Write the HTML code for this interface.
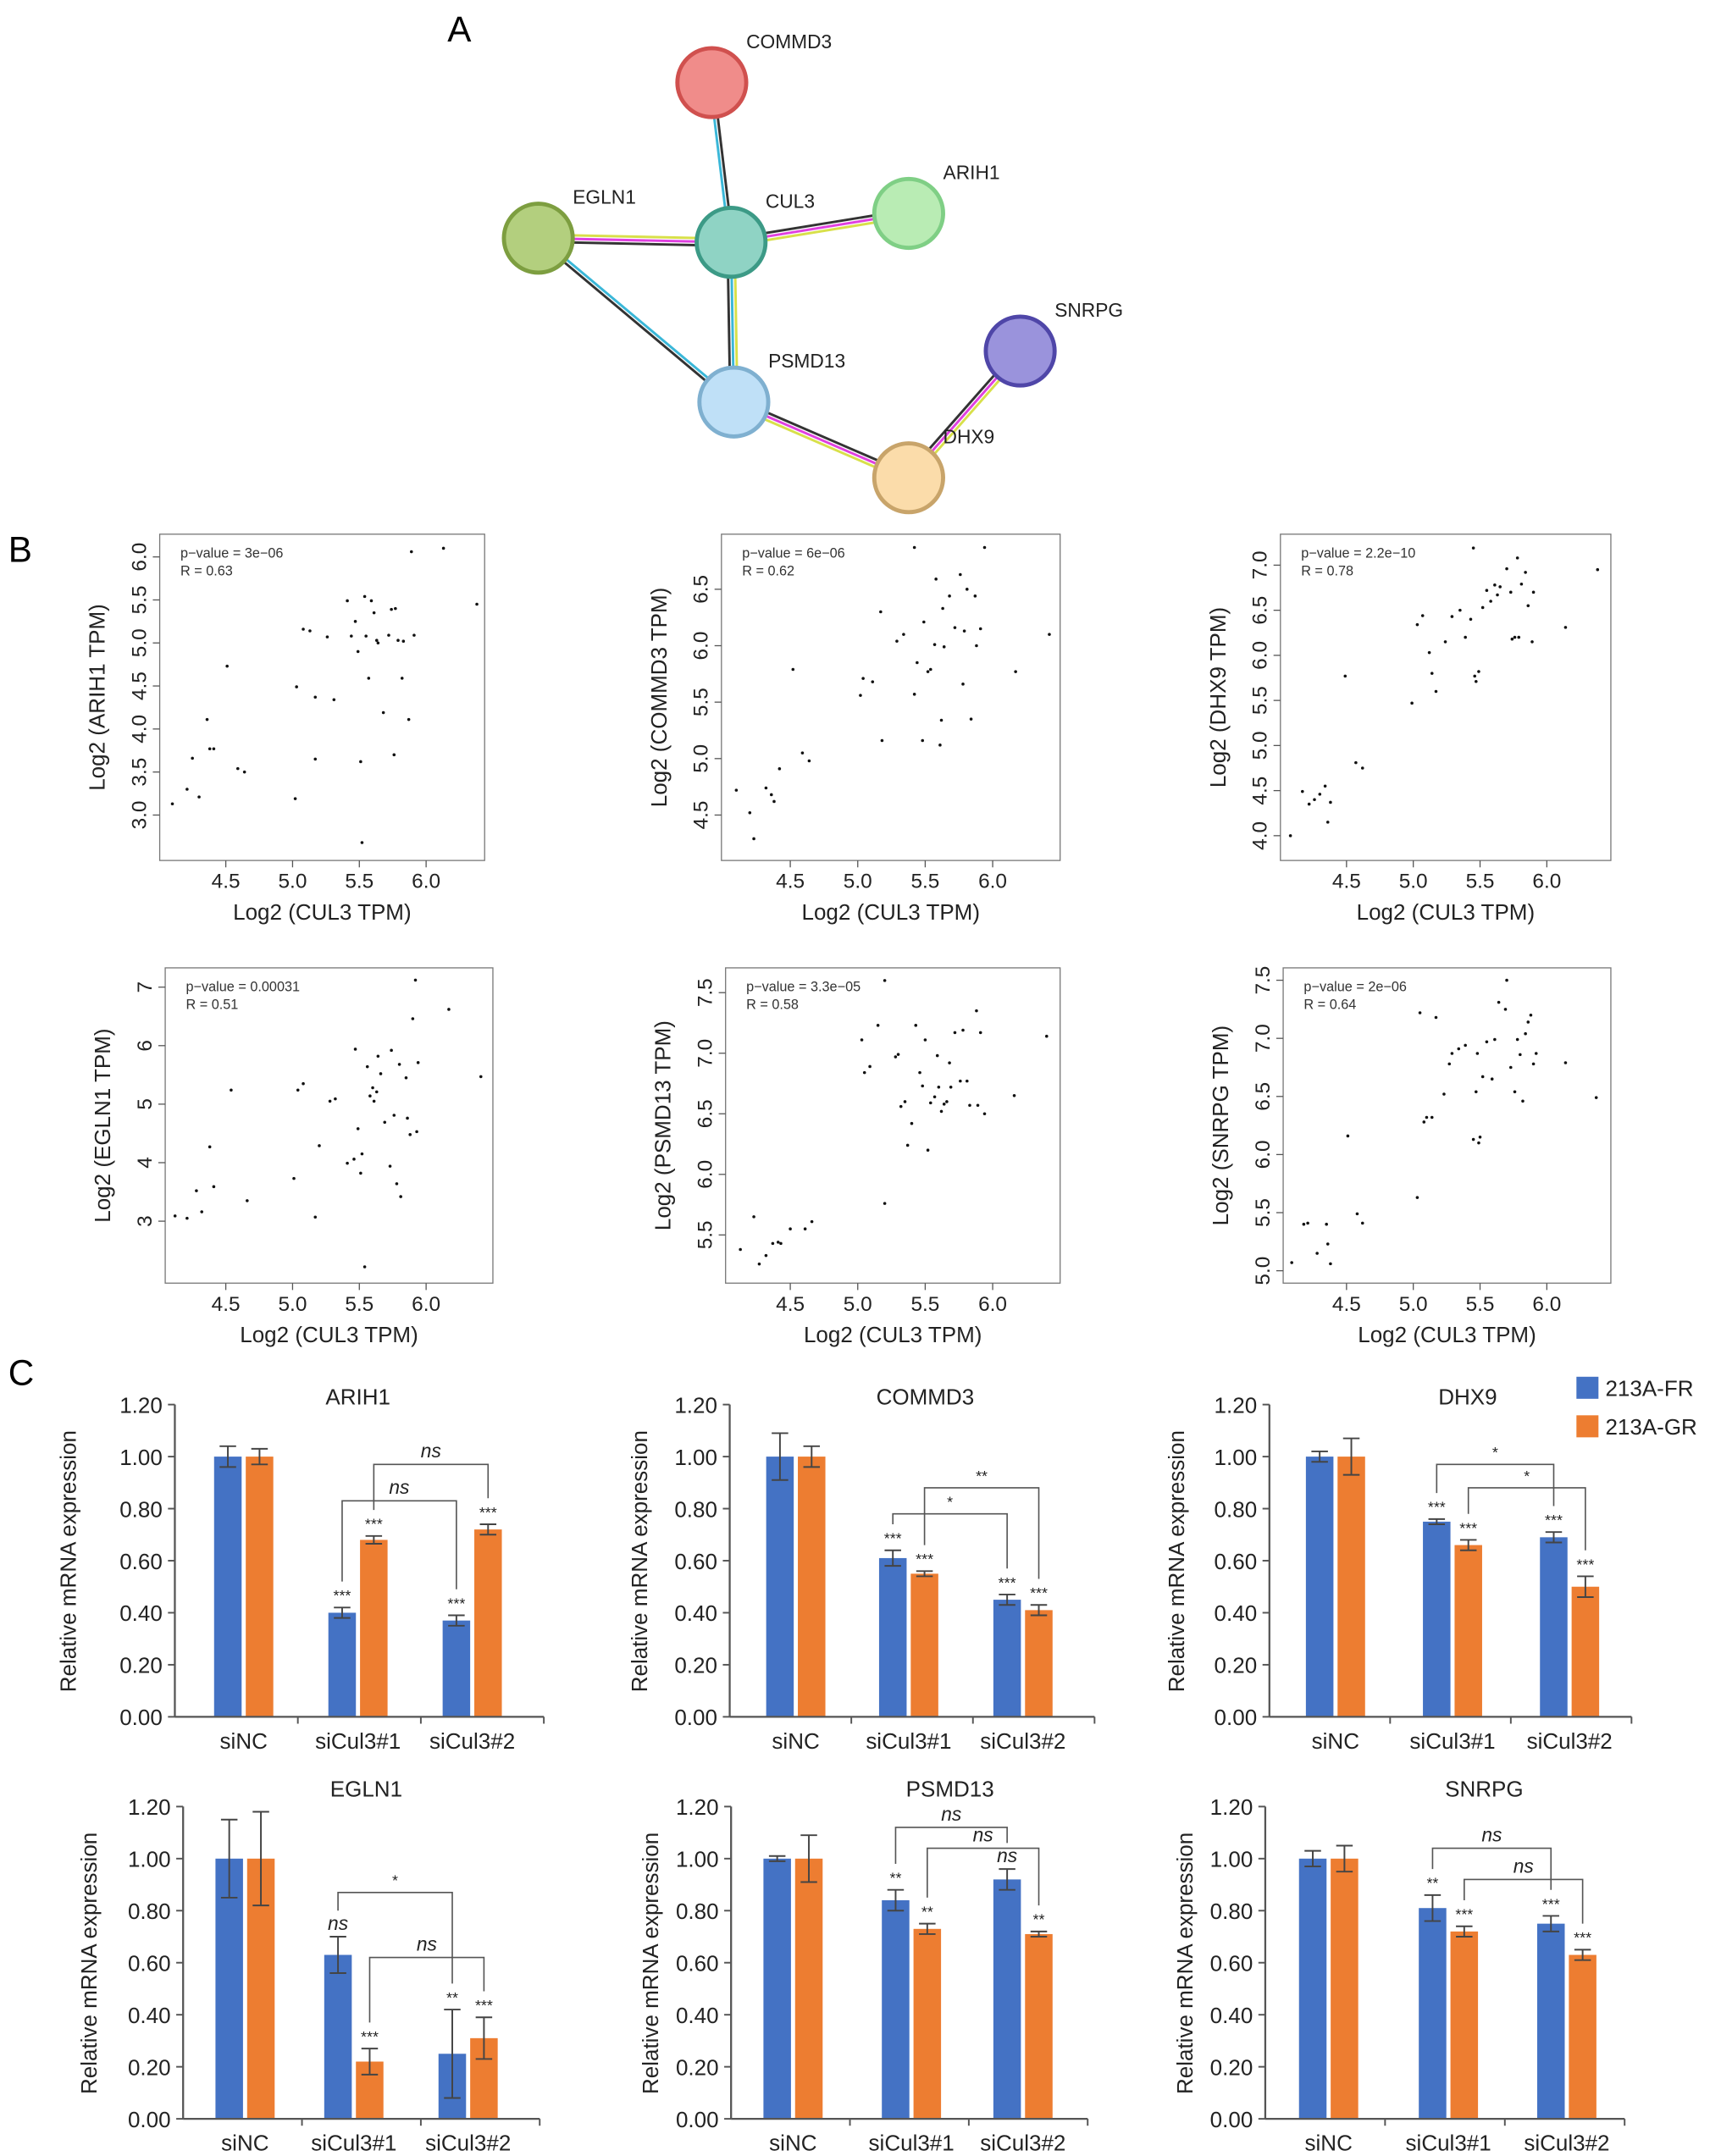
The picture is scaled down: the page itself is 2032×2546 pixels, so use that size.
<!DOCTYPE html>
<html><head><meta charset="utf-8"><style>
html,body{margin:0;padding:0;background:#fff}
svg{display:block}
text{font-family:"Liberation Sans",Arial,sans-serif}
</style></head><body>
<svg id="fig" xmlns="http://www.w3.org/2000/svg" width="2032" height="2546" viewBox="0 0 1250 1566" preserveAspectRatio="none">
<rect x="0" y="0" width="1250" height="1566" fill="#fff"/>
<text x="325" y="30" font-size="26">A</text>
<text x="6" y="408" font-size="26">B</text>
<text x="6" y="1006" font-size="26">C</text>
<g id="net"></g>
<g id="scat"></g>
<g id="bars"></g>
</svg>
<script>
// ---------- Network data ----------
const nodeNames = ["COMMD3","CUL3","ARIH1","EGLN1","PSMD13","SNRPG","DHX9"];
const nodeFill = ["#f08c8a","#8fd3c4","#b9ecb4","#b3cf7e","#bfe0f7","#9a93dc","#fbdcaa"];
const nodeStroke = ["#d0504e","#3c9a86","#7fcf85","#7d9e40","#7fb0d0","#4f46a8","#c8a46a"];
const nodeX = [517,531,660,391,533,741,660];
const nodeY = [60,176,155,173,292,255,347];
const edgeFrom = [0,3,1,1,3,4,6];
const edgeTo   = [1,1,2,4,4,6,5];
const edgeColors = [["#333","#3ab7d8"],["#d8e04a","#e040e0","#333"],["#333","#e040e0","#d8e04a"],["#d8e04a","#3ab7d8","#333"],["#3ab7d8","#333"],["#333","#e040e0","#d8e04a"],["#333","#e040e0","#d8e04a"]];
const labelDX = [25,25,25,25,25,25,25];
const NS="http://www.w3.org/2000/svg";
function el(tag,attrs,parent){const e=document.createElementNS(NS,tag);for(const k in attrs)e.setAttribute(k,attrs[k]);parent.appendChild(e);return e;}
const net=document.getElementById('net');
edgeFrom.forEach((f,i)=>{
  const t=edgeTo[i];const x1=nodeX[f],y1=nodeY[f],x2=nodeX[t],y2=nodeY[t];
  const dx=x2-x1,dy=y2-y1,L=Math.hypot(dx,dy),nx=-dy/L,ny=dx/L;
  const cs=edgeColors[i];
  cs.forEach((c,k)=>{const o=(k-(cs.length-1)/2)*2.6;
    const ln=el('line',{x1:x1+nx*o,y1:y1+ny*o,x2:x2+nx*o,y2:y2+ny*o,stroke:c,'stroke-width':1.8},net);
    
    
  });
});
nodeNames.forEach((n,i)=>{
  const c=el('circle',{cx:nodeX[i],cy:nodeY[i],r:25,fill:nodeFill[i],stroke:nodeStroke[i],'stroke-width':3},net);
  
  
  const t=el('text',{x:nodeX[i]+labelDX[i],y:nodeY[i]-25,'font-size':14,fill:'#222'},net);
  t.textContent=n;
  
  
});

// ---------- Scatter data ----------
const cul3A=[4.10,4.21,4.25,4.30,4.36,4.38,4.41,4.51,4.59,4.64,5.02,5.03,5.08,5.13,5.17,5.17,5.26,5.31,5.41,5.44,5.47,5.49,5.51,5.52,5.54,5.55,5.57,5.59,5.61,5.63,5.64,5.68,5.72,5.74,5.76,5.77,5.79,5.82,5.83,5.87,5.89,5.91,6.13,6.38];
const arih1=[3.13,3.30,3.66,3.21,4.11,3.77,3.77,4.73,3.54,3.50,3.19,4.49,5.16,5.14,4.37,3.65,5.07,4.34,5.49,5.08,5.25,4.90,3.62,2.68,5.54,5.08,4.59,5.49,5.35,5.03,5.00,4.19,5.09,5.39,3.70,5.40,5.03,4.59,5.02,4.11,6.06,5.09,6.10,5.45];
const cul3B=[4.10,4.20,4.23,4.32,4.36,4.38,4.42,4.52,4.59,4.64,5.02,5.04,5.11,5.18,5.17,5.29,5.34,5.42,5.42,5.44,5.48,5.49,5.52,5.54,5.57,5.58,5.61,5.62,5.63,5.64,5.68,5.72,5.76,5.78,5.79,5.81,5.84,5.87,5.88,5.91,5.94,6.17,6.42];
const commd3=[4.72,4.52,4.29,4.74,4.68,4.62,4.91,5.79,5.05,4.98,5.56,5.71,5.68,5.16,6.30,6.04,6.10,6.87,5.57,5.85,5.16,6.21,5.77,5.79,6.01,6.59,5.12,5.34,6.33,5.99,6.44,6.16,6.63,5.66,6.13,6.50,5.35,6.44,6.00,6.15,6.87,5.77,6.10];
const cul3C=[4.08,4.17,4.22,4.26,4.30,4.34,4.36,4.38,4.49,4.57,4.62,4.99,5.03,5.07,5.12,5.14,5.17,5.24,5.29,5.35,5.39,5.43,5.45,5.46,5.47,5.49,5.52,5.55,5.58,5.61,5.63,5.65,5.70,5.73,5.76,5.78,5.81,5.84,5.86,5.89,5.90,6.14,6.38,5.79,5.74];
const dhx9=[4.00,4.49,4.35,4.40,4.46,4.55,4.15,4.37,5.77,4.81,4.75,5.47,6.34,6.44,6.03,5.80,5.60,6.15,6.43,6.50,6.20,6.40,7.19,5.77,5.71,5.82,6.53,6.72,6.60,6.78,6.67,6.76,6.96,6.70,6.20,7.08,6.79,6.92,6.55,6.15,6.70,6.31,6.95,6.20,6.18];
const cul3D=[4.12,4.21,4.28,4.32,4.38,4.41,4.54,4.66,5.01,5.04,5.08,5.17,5.20,5.28,5.32,5.41,5.46,5.47,5.49,5.51,5.52,5.54,5.56,5.58,5.60,5.61,5.63,5.64,5.66,5.69,5.73,5.74,5.76,5.78,5.80,5.81,5.85,5.86,5.88,5.90,5.92,5.94,6.17,6.41,5.93];
const egln1=[3.09,3.05,3.52,3.16,4.27,3.59,5.24,3.35,3.73,5.24,5.35,3.07,4.29,5.05,5.09,3.99,4.06,5.94,4.58,3.82,4.15,2.22,5.64,5.14,5.28,5.05,5.21,5.82,5.52,4.69,3.94,5.92,4.81,3.64,5.68,3.42,5.45,4.76,4.48,6.46,7.12,5.71,6.62,5.47,4.53];
const cul3E=[4.13,4.23,4.27,4.32,4.37,4.41,4.43,4.50,4.61,4.66,5.03,5.05,5.09,5.15,5.20,5.28,5.30,5.32,5.35,5.37,5.40,5.43,5.46,5.48,5.50,5.52,5.54,5.57,5.59,5.60,5.62,5.64,5.66,5.68,5.69,5.72,5.76,5.78,5.81,5.83,5.88,5.89,5.91,5.94,6.16,6.40,5.20];
const psmd13=[5.38,5.65,5.26,5.33,5.43,5.44,5.43,5.55,5.55,5.61,7.11,6.84,6.89,7.23,5.76,6.97,6.99,6.56,6.60,6.24,6.42,7.23,6.84,6.73,7.11,6.20,6.59,6.64,6.98,6.72,6.52,6.58,6.60,6.92,6.72,7.17,6.77,7.19,6.77,6.57,7.35,6.57,7.17,6.50,6.65,7.14,7.60];
const cul3F=[4.09,4.18,4.21,4.28,4.35,4.36,4.38,4.51,4.58,4.62,5.03,5.05,5.08,5.10,5.14,5.17,5.23,5.27,5.29,5.34,5.39,5.45,5.47,5.48,5.49,5.50,5.52,5.55,5.59,5.61,5.64,5.70,5.73,5.76,5.78,5.80,5.82,5.84,5.86,5.88,5.90,5.92,6.14,6.37,5.69];
const snrpg=[5.07,5.40,5.41,5.15,5.40,5.23,5.06,6.16,5.49,5.41,5.63,7.22,6.28,6.32,6.32,7.18,6.52,6.78,6.87,6.91,6.94,6.13,6.54,6.87,6.10,6.15,6.67,6.97,6.65,6.99,7.31,7.50,6.75,6.54,6.99,6.86,6.46,7.04,7.14,7.20,6.78,6.87,6.79,6.49,7.25];
const xTickLabels=["4.5","5.0","5.5","6.0"];
const yTicksA=["3.0","3.5","4.0","4.5","5.0","5.5","6.0"];
const yTicksB=["4.5","5.0","5.5","6.0","6.5"];
const yTicksC=["4.0","4.5","5.0","5.5","6.0","6.5","7.0"];
const yTicksD=["3","4","5","6","7"];
const yTicksE=["5.5","6.0","6.5","7.0","7.5"];
const yTicksF=["5.0","5.5","6.0","6.5","7.0","7.5"];
const pvals=["p−value = 3e−06","p−value = 6e−06","p−value = 2.2e−10","p−value = 0.00031","p−value = 3.3e−05","p−value = 2e−06"];
const rvals=["R = 0.63","R = 0.62","R = 0.78","R = 0.51","R = 0.58","R = 0.64"];
const scatGenes=["ARIH1","COMMD3","DHX9","EGLN1","PSMD13","SNRPG"];

const scatLayout=[
 {box:[116,388,352,625],x45:164,xs:97,y0:592,yb:3.0,ys:62.5,xs2:cul3A,ys2:arih1,yt:yTicksA},
 {box:[524,388,770,625],x45:574,xs:98,y0:592,yb:4.5,ys:82,xs2:cul3B,ys2:commd3,yt:yTicksB},
 {box:[930,388,1170,625],x45:978,xs:97,y0:607,yb:4.0,ys:65.5,xs2:cul3C,ys2:dhx9,yt:yTicksC},
 {box:[120,703,358,932],x45:164,xs:97,y0:887,yb:3.0,ys:42.5,xs2:cul3D,ys2:egln1,yt:yTicksD},
 {box:[527,703,770,932],x45:574,xs:98,y0:897,yb:5.5,ys:88,xs2:cul3E,ys2:psmd13,yt:yTicksE},
 {box:[932,703,1170,932],x45:978,xs:97,y0:923,yb:5.0,ys:84.4,xs2:cul3F,ys2:snrpg,yt:yTicksF}
];
const scat=document.getElementById('scat');
scatLayout.forEach((L,i)=>{
  const g=el('g',{},scat);
  
  
  const [x0,y0,x1,y1]=L.box;
  const fx=v=>L.x45+(v-4.5)*L.xs, fy=v=>L.y0-(v-L.yb)*L.ys;
  el('rect',{x:x0,y:y0,width:x1-x0,height:y1-y0,fill:'none',stroke:'#777','stroke-width':0.8},g);
  xTickLabels.forEach(t=>{const px=fx(parseFloat(t));
    el('line',{x1:px,y1:y1,x2:px,y2:y1+5,stroke:'#555','stroke-width':0.8},g);
    const tx=el('text',{x:px,y:y1+20,'font-size':15,'text-anchor':'middle',fill:'#222'},g);tx.textContent=t;
    
    });
  L.yt.forEach(t=>{const py=fy(parseFloat(t));
    el('line',{x1:x0,y1:py,x2:x0-5,y2:py,stroke:'#555','stroke-width':0.8},g);
    const tx=el('text',{x:x0-10,y:py,'font-size':15,'text-anchor':'middle',fill:'#222',transform:`rotate(-90 ${x0-10} ${py})`},g);tx.textContent=t;
    
    });
  L.xs2.forEach((v,k)=>{const d=el('circle',{cx:fx(v),cy:fy(L.ys2[k]),r:1.1,fill:'#111'},g);
    
    });
  const p=el('text',{x:x0+15,y:y0+17,'font-size':10,fill:'#333'},g);p.textContent=pvals[i];
  
  
  const r=el('text',{x:x0+15,y:y0+30,'font-size':10,fill:'#333'},g);r.textContent=rvals[i];
  
  
  const xt=el('text',{x:(x0+x1)/2,y:y1+43,'font-size':16,'text-anchor':'middle',fill:'#222'},g);xt.textContent="Log2 (CUL3 TPM)";
  
  
  const yc=(y0+y1)/2, yx=x0-40;
  const yt=el('text',{x:yx,y:yc,'font-size':16,'text-anchor':'middle',fill:'#222',transform:`rotate(-90 ${yx} ${yc})`},g);yt.textContent=`Log2 (${scatGenes[i]} TPM)`;
  
  
});

// ---------- Bar data ----------
const barCats=["siNC","siCul3#1","siCul3#2"];
const barTicks=["0.00","0.20","0.40","0.60","0.80","1.00","1.20"];
const frARIH1=[1.00,0.40,0.37], frErrARIH1=[0.04,0.02,0.02], grARIH1=[1.00,0.68,0.72], grErrARIH1=[0.03,0.015,0.02];
const frCOMMD3=[1.00,0.61,0.45], frErrCOMMD3=[0.09,0.03,0.02], grCOMMD3=[1.00,0.55,0.41], grErrCOMMD3=[0.04,0.01,0.02];
const frDHX9=[1.00,0.75,0.69], frErrDHX9=[0.02,0.01,0.02], grDHX9=[1.00,0.66,0.50], grErrDHX9=[0.07,0.02,0.04];
const frEGLN1=[1.00,0.63,0.25], frErrEGLN1=[0.15,0.07,0.17], grEGLN1=[1.00,0.22,0.31], grErrEGLN1=[0.18,0.05,0.08];
const frPSMD13=[1.00,0.84,0.92], frErrPSMD13=[0.01,0.04,0.04], grPSMD13=[1.00,0.73,0.71], grErrPSMD13=[0.09,0.02,0.01];
const frSNRPG=[1.00,0.81,0.75], frErrSNRPG=[0.03,0.05,0.03], grSNRPG=[1.00,0.72,0.63], grErrSNRPG=[0.05,0.02,0.02];
const sigFR=[["","***","***"],["","***","***"],["","***","***"],["","ns","**"],["","**","ns"],["","**","***"]];
const sigGR=[["","***","***"],["","***","***"],["","***","***"],["","***","***"],["","**","**"],["","***","***"]];
// brackets: [series(0=FR,1=GR) of start, series of end, level, label]
const bracketsARIH1=[[0,0,0.83,"ns"],[1,1,0.97,"ns"]];
const bracketsCOMMD3=[[0,0,0.78,"*"],[1,1,0.88,"**"]];
const bracketsDHX9=[[0,0,0.97,"*"],[1,1,0.88,"*"]];
const bracketsEGLN1=[[0,0,0.87,"*"],[1,1,0.62,"ns"]];
const bracketsPSMD13=[[0,0,1.12,"ns"],[1,1,1.04,"ns"]];
const bracketsSNRPG=[[0,0,1.04,"ns"],[1,1,0.92,"ns"]];
const barGenes=["ARIH1","COMMD3","DHX9","EGLN1","PSMD13","SNRPG"];
const barFR=[frARIH1,frCOMMD3,frDHX9,frEGLN1,frPSMD13,frSNRPG];
const barFRe=[frErrARIH1,frErrCOMMD3,frErrDHX9,frErrEGLN1,frErrPSMD13,frErrSNRPG];
const barGR=[grARIH1,grCOMMD3,grDHX9,grEGLN1,grPSMD13,grSNRPG];
const barGRe=[grErrARIH1,grErrCOMMD3,grErrDHX9,grErrEGLN1,grErrPSMD13,grErrSNRPG];
const barBr=[bracketsARIH1,bracketsCOMMD3,bracketsDHX9,bracketsEGLN1,bracketsPSMD13,bracketsSNRPG];
const barLayout=[
 {ax:127,ax2:395,y0:1247,cx:[177,260,343],tx:260,ty:1020,yl:55},
 {ax:530,ax2:795,y0:1247,cx:[578,660,743],tx:672,ty:1020,yl:470},
 {ax:922,ax2:1185,y0:1247,cx:[970,1055,1140],tx:1066,ty:1020,yl:860},
 {ax:133,ax2:392,y0:1539,cx:[178,257,340],tx:266,ty:1305,yl:70},
 {ax:531,ax2:790,y0:1539,cx:[576,662,743],tx:690,ty:1305,yl:478},
 {ax:919,ax2:1180,y0:1539,cx:[965,1052,1138],tx:1078,ty:1305,yl:866}
];
const BLUE="#4472c4", ORANGE="#ed7d31";
const bars=document.getElementById('bars');
barLayout.forEach((L,i)=>{
  const g=el('g',{},bars);
  
  
  const fy=v=>L.y0-v*189;
  barTicks.forEach(t=>{const py=fy(parseFloat(t));
    el('line',{x1:L.ax-5,y1:py,x2:L.ax,y2:py,stroke:'#555','stroke-width':1.2},g);
    const tx=el('text',{x:L.ax-9,y:py+6,'font-size':16,'text-anchor':'end',fill:'#222'},g);tx.textContent=t;
    
    });
  const series=[[barFR[i],barFRe[i],BLUE,-11.5,sigFR[i]],[barGR[i],barGRe[i],ORANGE,11.5,sigGR[i]]];
  const tops=[[],[]];
  series.forEach(([vals,errs,col,off,sig],s)=>{
    vals.forEach((v,k)=>{const cx=L.cx[k]+off;
      const r=el('rect',{x:cx-10,y:fy(v),width:20,height:v*189,fill:col},g);
      
      
      const e=errs[k];
      el('line',{x1:cx,y1:fy(v+e),x2:cx,y2:fy(v-e),stroke:'#444','stroke-width':1.2},g);
      el('line',{x1:cx-6,y1:fy(v+e),x2:cx+6,y2:fy(v+e),stroke:'#444','stroke-width':1.2},g);
      el('line',{x1:cx-6,y1:fy(v-e),x2:cx+6,y2:fy(v-e),stroke:'#444','stroke-width':1.2},g);
      tops[s][k]=v+e;
      if(sig[k]){const st=el('text',{x:cx,y:fy(v+e)-5,'font-size':sig[k]==='ns'?14:11,'font-style':sig[k]==='ns'?'italic':'normal','text-anchor':'middle',fill:'#222'},g);st.textContent=sig[k];
        
        }
    });
  });
  barBr[i].forEach(([s1,s2,lvl,lab])=>{
    const off=[-11.5,11.5];
    const xa=L.cx[1]+off[s1], xb=L.cx[2]+off[s2];
    const ya=fy(tops[s1][1]+0.1), yb=fy(tops[s2][2]+0.1), yl=fy(lvl);
    const pl=el('polyline',{points:`${xa},${ya} ${xa},${yl} ${xb},${yl} ${xb},${yb}`,fill:'none',stroke:'#555','stroke-width':1},g);
    
    
    const t=el('text',{x:(xa+xb)/2,y:yl-5,'font-size':lab==='ns'?14:11,'font-style':lab==='ns'?'italic':'normal','text-anchor':'middle',fill:'#222'},g);t.textContent=lab;
    
    
  });
  el('line',{x1:L.ax,y1:fy(1.2),x2:L.ax,y2:L.y0,stroke:'#555','stroke-width':1.4},g);
  el('line',{x1:L.ax,y1:L.y0,x2:L.ax2,y2:L.y0,stroke:'#555','stroke-width':1.4},g);
  const step=(L.ax2-L.ax)/3;
  [1,2,3].forEach(k=>el('line',{x1:L.ax+step*k,y1:L.y0,x2:L.ax+step*k,y2:L.y0+5,stroke:'#555','stroke-width':1.2},g));
  barCats.forEach((c,k)=>{const t=el('text',{x:L.cx[k],y:L.y0+23,'font-size':16,'text-anchor':'middle',fill:'#222'},g);t.textContent=c;
    
    });
  const tt=el('text',{x:L.tx,y:L.ty,'font-size':16,'text-anchor':'middle',fill:'#222'},g);tt.textContent=barGenes[i];
  
  
  const yc=L.y0-113;
  const yt=el('text',{x:L.yl,y:yc,'font-size':16,'text-anchor':'middle',fill:'#222',transform:`rotate(-90 ${L.yl} ${yc})`},g);yt.textContent="Relative mRNA expression";
  
  
});
// legend
const lg=el('g',{},bars);


[["213A-FR",BLUE,1000],["213A-GR",ORANGE,1028]].forEach(([n,c,y])=>{
  const r=el('rect',{x:1145,y:y,width:16,height:16,fill:c},lg);
  
  
  const t=el('text',{x:1166,y:y+14,'font-size':16,fill:'#222'},lg);t.textContent=n;
  
  
});
</script>
</body></html>
